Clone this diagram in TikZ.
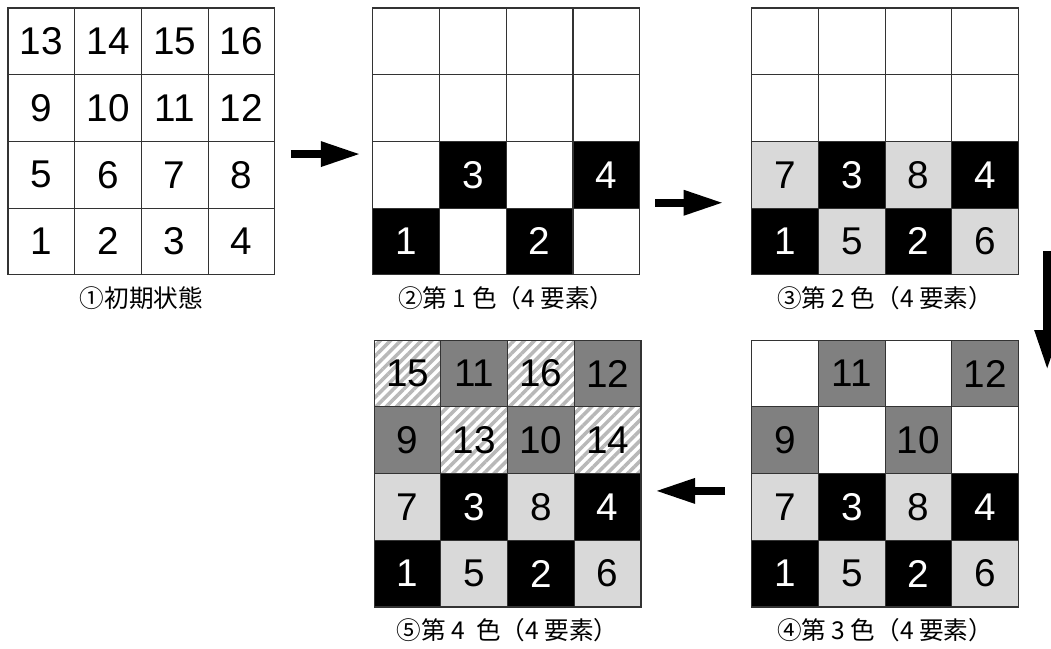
\documentclass[tikz,border=0pt]{standalone}
\usepackage{fontspec}
\setmainfont{Liberation Sans}
\newfontfamily\jpfont{Noto Sans CJK JP}
\usetikzlibrary{arrows.meta,patterns.meta}
\definecolor{lgray}{HTML}{D9D9D9}
\definecolor{dgray}{HTML}{808080}
\definecolor{hgray}{HTML}{B8B8B8}
\tikzset{
  cell/.style={draw=black!80, line width=0.5pt, minimum size=1cm, inner sep=0pt,
    font=\fontsize{16.5}{19}\selectfont},
  wht/.style={fill=white},
  blk/.style={fill=black, text=white},
  lgt/.style={fill=lgray},
  drk/.style={fill=dgray},
  hat/.style={fill=white, pattern={Lines[angle=45,distance=3.1pt,line width=1.5pt]},
    pattern color=hgray},
  captxt/.style={font=\jpfont\fontsize{10.5}{12}\selectfont},
  bigarrow/.style={line width=0.12cm, -{Triangle[length=0.6cm,width=0.35cm]}},
}
\begin{document}
\begin{tikzpicture}
  \useasboundingbox (0,0) rectangle (15.757,9.73);

  % Grid 1: initial state
  \begin{scope}[shift={(0.12,5.61)}]
    \foreach \n in {1,...,16} {
      \pgfmathtruncatemacro{\c}{mod(\n-1,4)+1}
      \pgfmathtruncatemacro{\r}{int((\n-1)/4)+1}
      \node[cell,wht] (g1-\c-\r) at (\c-0.5,\r-0.5) {\n};
    }
    \node[captxt] (cap1) at (2,-0.35) {①初期状態};
  \end{scope}

  % Grid 2: first colour
  \begin{scope}[shift={(5.59,5.61)}]
    \foreach \c/\r/\s/\t in {1/1/blk/1, 2/1/wht/{}, 3/1/blk/2, 4/1/wht/{},
                             1/2/wht/{}, 2/2/blk/3, 3/2/wht/{}, 4/2/blk/4,
                             1/3/wht/{}, 2/3/wht/{}, 3/3/wht/{}, 4/3/wht/{},
                             1/4/wht/{}, 2/4/wht/{}, 3/4/wht/{}, 4/4/wht/{}}
      \node[cell,\s] (g2-\c-\r) at (\c-0.5,\r-0.5) {\t};
    \node[captxt] (cap2) at (2,-0.35) {②第 1 色（4 要素）};
  \end{scope}

  % Grid 3: second colour
  \begin{scope}[shift={(11.27,5.61)}]
    \foreach \c/\r/\s/\t in {1/1/blk/1, 2/1/lgt/5, 3/1/blk/2, 4/1/lgt/6,
                             1/2/lgt/7, 2/2/blk/3, 3/2/lgt/8, 4/2/blk/4,
                             1/3/wht/{}, 2/3/wht/{}, 3/3/wht/{}, 4/3/wht/{},
                             1/4/wht/{}, 2/4/wht/{}, 3/4/wht/{}, 4/4/wht/{}}
      \node[cell,\s] (g3-\c-\r) at (\c-0.5,\r-0.5) {\t};
    \node[captxt] (cap3) at (2,-0.35) {③第 2 色（4 要素）};
  \end{scope}

  % Grid 4: third colour
  \begin{scope}[shift={(11.27,0.63)}]
    \foreach \c/\r/\s/\t in {1/1/blk/1, 2/1/lgt/5, 3/1/blk/2, 4/1/lgt/6,
                             1/2/lgt/7, 2/2/blk/3, 3/2/lgt/8, 4/2/blk/4,
                             1/3/drk/9, 2/3/wht/{}, 3/3/drk/10, 4/3/wht/{},
                             1/4/wht/{}, 2/4/drk/11, 3/4/wht/{}, 4/4/drk/12}
      \node[cell,\s] (g4-\c-\r) at (\c-0.5,\r-0.5) {\t};
    \node[captxt] (cap4) at (2,-0.35) {④第 3 色（4 要素）};
  \end{scope}

  % Grid 5: fourth colour
  \begin{scope}[shift={(5.61,0.63)}]
    \foreach \c/\r/\s/\t in {1/1/blk/1, 2/1/lgt/5, 3/1/blk/2, 4/1/lgt/6,
                             1/2/lgt/7, 2/2/blk/3, 3/2/lgt/8, 4/2/blk/4,
                             1/3/drk/9, 2/3/hat/13, 3/3/drk/10, 4/3/hat/14,
                             1/4/hat/15, 2/4/drk/11, 3/4/hat/16, 4/4/drk/12}
      \node[cell,\s] (g5-\c-\r) at (\c-0.5,\r-0.5) {\t};
    \node[captxt] (cap5) at (2,-0.35) {⑤第 4 \ 色（4 要素）};
  \end{scope}

  % Arrows
  \coordinate (a1s) at (4.36,7.42);
  \coordinate (a1e) at (5.41,7.42);
  \coordinate (a2s) at (9.82,6.69);
  \coordinate (a2e) at (10.85,6.69);
  \coordinate (a3s) at (15.70,5.97);
  \coordinate (a3e) at (15.70,4.18);
  \coordinate (a4s) at (10.87,2.37);
  \coordinate (a4e) at (9.82,2.37);
  \draw[bigarrow] (a1s) -- (a1e);
  \draw[bigarrow] (a2s) -- (a2e);
  \draw[bigarrow] (a3s) -- (a3e);
  \draw[bigarrow] (a4s) -- (a4e);
\end{tikzpicture}
\end{document}
